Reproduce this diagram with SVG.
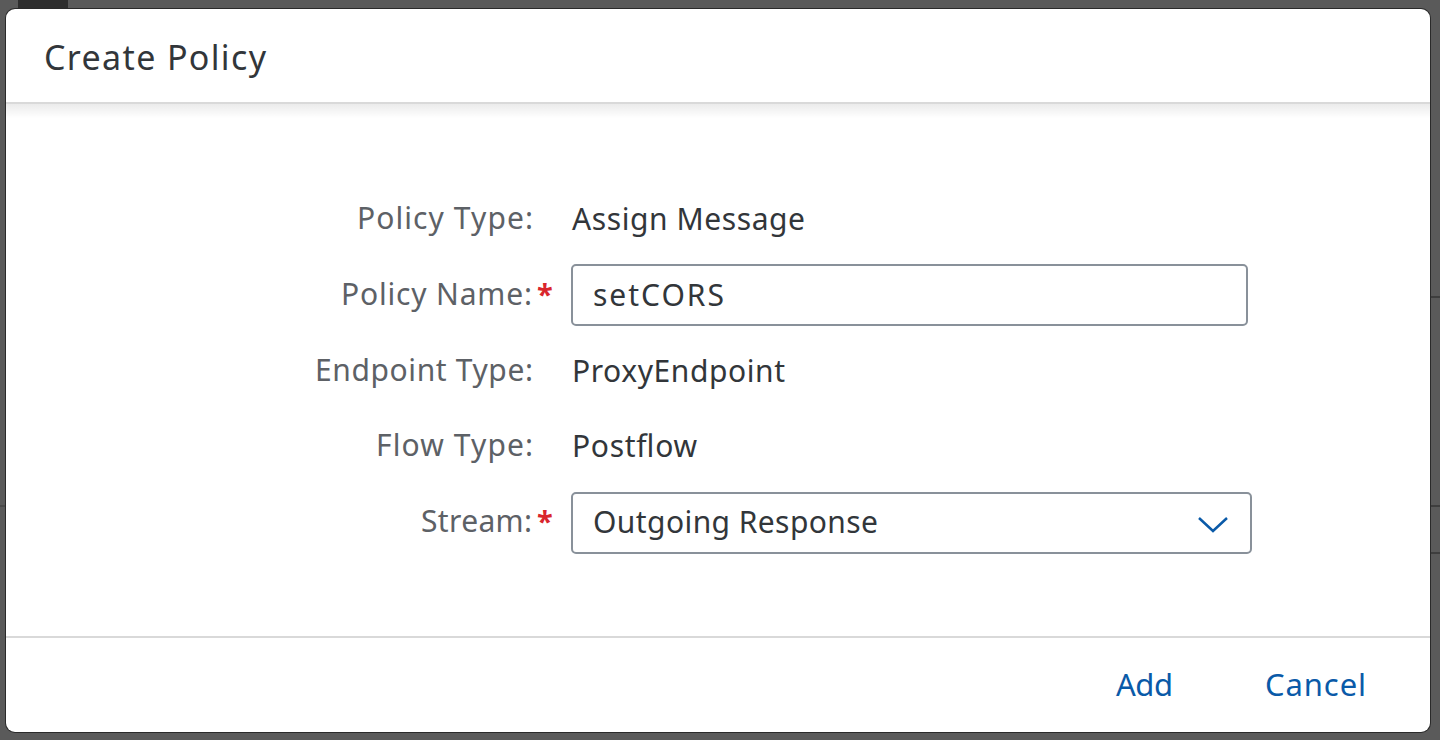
<svg xmlns="http://www.w3.org/2000/svg" width="1440" height="740" viewBox="0 0 1440 740">
<style>
.t{font-family:"Noto Sans","Open Sans",sans-serif;}
.lbl{font-size:30px;fill:#5d6166;text-anchor:end;}
.val{font-size:30px;fill:#32363a;}
.req{font-size:29px;fill:#d9262c;font-weight:bold;}
.btn{font-size:31px;fill:#0a5aa8;}
.box{fill:#fff;stroke:#89919a;stroke-width:2;}
</style>
<defs>
<linearGradient id="hs" x1="0" y1="0" x2="0" y2="1">
<stop offset="0" stop-color="#000" stop-opacity="0.08"/>
<stop offset="1" stop-color="#000" stop-opacity="0"/>
</linearGradient>
</defs>
<rect x="0" y="0" width="1440" height="740" fill="#5a5a5a"/>
<rect x="18" y="0" width="50" height="9" fill="#2e2e2e"/>
<line x1="0" y1="506" x2="6" y2="506" stroke="#4a4a4a" stroke-width="2"/>
<line x1="1430" y1="297" x2="1440" y2="297" stroke="#3e3e3e" stroke-width="2"/>
<line x1="1430" y1="506" x2="1440" y2="506" stroke="#3e3e3e" stroke-width="2"/>
<line x1="1430" y1="553" x2="1440" y2="553" stroke="#3e3e3e" stroke-width="2"/>
<g id="dialog">
<rect x="5" y="8" width="1426" height="725" rx="10" fill="#2a2a2a"/>
<rect x="6" y="9" width="1424" height="723" rx="9" fill="#ffffff"/>
<rect x="6" y="104" width="1424" height="14" fill="url(#hs)"/>
<line x1="6" y1="103" x2="1430" y2="103" stroke="#d9d9d9" stroke-width="2"/>
<line x1="6" y1="637" x2="1430" y2="637" stroke="#d9d9d9" stroke-width="2"/>
<text class="t" x="44" y="70" font-size="34" fill="#32363a" textLength="222">Create Policy</text>
</g>
<g id="policy-type">
<text class="t lbl" x="533" y="229" textLength="176">Policy Type:</text>
<text class="t val" x="572" y="230" textLength="233">Assign Message</text>
</g>
<g id="policy-name">
<text class="t lbl" x="532" y="305" textLength="191">Policy Name:</text>
<text class="t req" x="537" y="305">*</text>
<rect class="box" x="572" y="265" width="675" height="60" rx="4"/>
<text class="t val" x="593" y="306" textLength="131">setCORS</text>
</g>
<g id="endpoint-type">
<text class="t lbl" x="533" y="381" textLength="218">Endpoint Type:</text>
<text class="t val" x="572" y="382" textLength="213">ProxyEndpoint</text>
</g>
<g id="flow-type">
<text class="t lbl" x="533" y="456" textLength="157">Flow Type:</text>
<text class="t val" x="572" y="457" textLength="125">Postflow</text>
</g>
<g id="stream">
<text class="t lbl" x="532" y="532" textLength="111">Stream:</text>
<text class="t req" x="537" y="532">*</text>
<rect class="box" x="572" y="493" width="679" height="60" rx="4"/>
<text class="t val" x="593" y="533" textLength="285">Outgoing Response</text>
<polyline points="1199,518 1213,531 1227,518" fill="none" stroke="#0a5aa8" stroke-width="2.5"/>
</g>
<g id="buttons">
<text class="t btn" x="1116" y="696" textLength="57">Add</text>
<text class="t btn" x="1265" y="696" textLength="101">Cancel</text>
</g>
</svg>
